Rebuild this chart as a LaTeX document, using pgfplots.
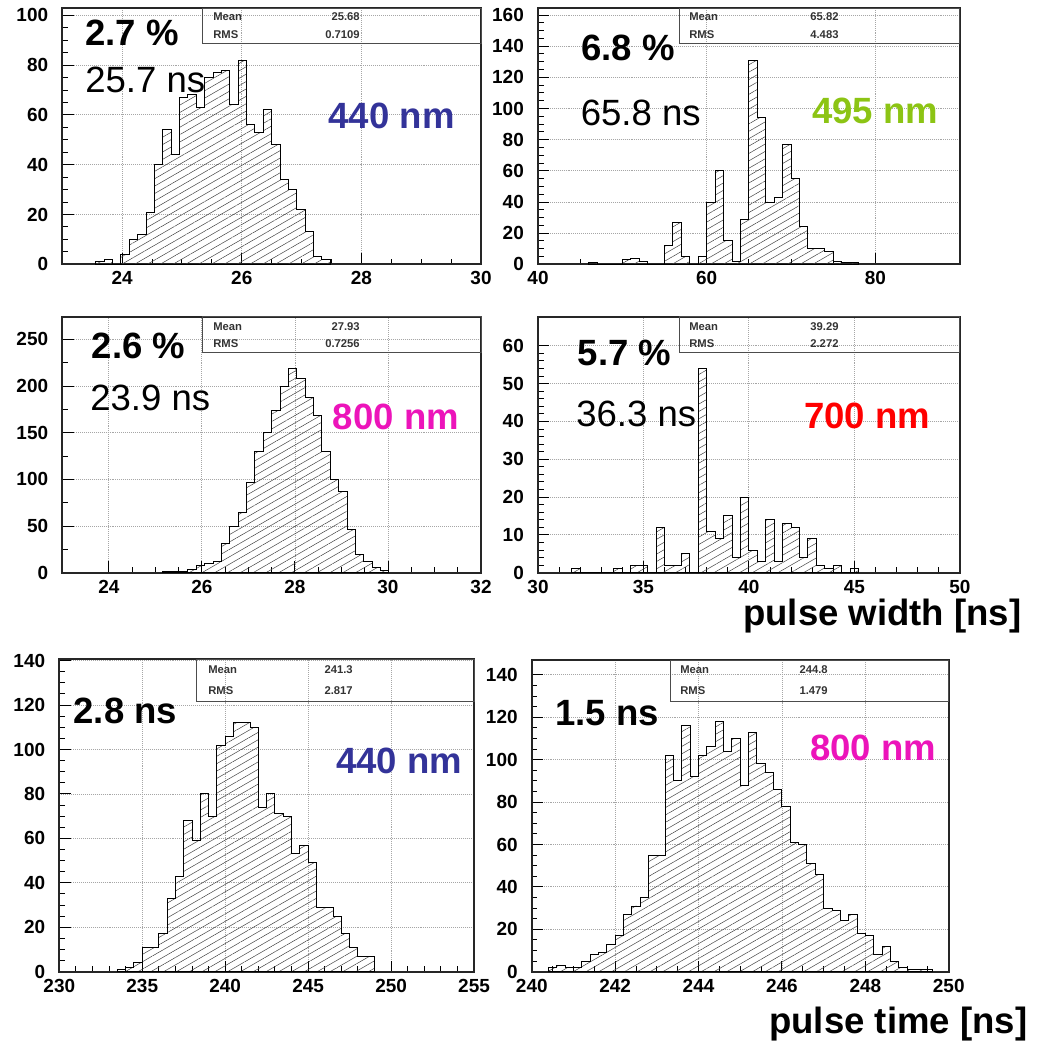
\documentclass[border=0pt]{standalone}
\usepackage{fontspec}
\setmainfont{Liberation Sans}
\usepackage{pgfplots}
\pgfplotsset{compat=1.18}
\usetikzlibrary{patterns.meta}
\definecolor{c440}{RGB}{51,51,153}
\definecolor{c495}{RGB}{140,196,20}
\definecolor{c800}{RGB}{236,20,186}
\definecolor{c700}{RGB}{255,0,0}
\newcommand\tickfont{\fontsize{13.5}{16}\selectfont\bfseries}
\newcommand\bigfont{\fontsize{26}{30}\selectfont}
\newcommand\statfont{\fontsize{8}{9}\selectfont\bfseries}

\pgfplotsset{
  rootax/.style={
    scale only axis, anchor=north west,
    enlargelimits=false, ymin=0,
    tick align=inside, tick pos=left,
    grid=major, major grid style={densely dotted, gray!70, line width=0.6pt},
    axis line style={line width=1.3pt, black!85},
    major tick length=2.8mm, minor tick length=1.4mm,
    every tick/.style={black, line width=0.7pt},
    /pgf/number format/assume math mode=true,
    ticklabel style={font=\tickfont},
    xticklabel style={yshift=-0.6mm},
    yticklabel style={xshift=-2.3mm},
    scaled ticks=false,
  },
  hist/.style={const plot, draw=black, line width=0.7pt,
    pattern={Lines[angle=30, distance=1.6mm, line width=0.35pt]},
    pattern color=black!75},
}

\begin{document}
\begin{tikzpicture}
\path (0,0) rectangle (259.25mm,-261mm);

% 440 nm pulse width
\begin{axis}[rootax, at={(15.58mm,-2.08mm)}, width=104.68mm, height=64mm,
  xmin=23, xmax=30, ymax=102.8, xtick={24,26,28,30}, ytick={0,20,...,100},
  minor x tick num=3, minor y tick num=3]
\addplot[hist] coordinates {
  (23.56,1) (23.70,2) (23.84,0) (23.98,4) (24.12,10) (24.26,12) (24.40,21)
  (24.54,40) (24.68,54) (24.82,44) (24.96,67) (25.10,68) (25.24,63) (25.38,75)
  (25.52,77) (25.66,78) (25.80,64) (25.94,82) (26.08,56) (26.22,53) (26.36,62)
  (26.50,48) (26.64,34) (26.78,30) (26.92,22) (27.06,13) (27.20,3) (27.34,2)
  (27.48,2)} \closedcycle;
\end{axis}

% 495 nm pulse width
\begin{axis}[rootax, at={(134.5mm,-2.08mm)}, width=105.45mm, height=64mm,
  xmin=40, xmax=90, ymax=164.3, xtick={40,60,80}, ytick={0,20,...,160},
  minor x tick num=3, minor y tick num=3]
\addplot[hist] coordinates {
  (46,1) (47,0) (50,3) (51,4) (52,2) (53,0) (55,12) (56,27) (57,5) (58,0)
  (59,5) (60,40) (61,60) (62,15) (63,2) (64,29) (65,131) (66,94) (67,40)
  (68,43) (69,77) (70,55) (71,24) (72,10) (73,10) (74,8) (75,2) (76,1)
  (77,1) (78,1)} \closedcycle;
\end{axis}

% 800 nm pulse width
\begin{axis}[rootax, at={(15.58mm,-79.17mm)}, width=104.68mm, height=64mm,
  xmin=23, xmax=32, ymax=274.3, xtick={24,26,...,32}, ytick={0,50,...,250},
  minor x tick num=3, minor y tick num=1]
\addplot[hist] coordinates {
  (25.16,1) (25.34,1) (25.52,1) (25.70,3) (25.88,8) (26.06,10) (26.24,12)
  (26.42,31) (26.60,49) (26.78,64) (26.96,97) (27.14,130) (27.32,150)
  (27.50,174) (27.68,200) (27.86,219) (28.04,208) (28.22,188) (28.40,168)
  (28.58,130) (28.76,100) (28.94,87) (29.12,46) (29.30,20) (29.48,12)
  (29.66,6) (29.84,2) (30.02,2)} \closedcycle;
\end{axis}

% 700 nm pulse width
\begin{axis}[rootax, at={(134.5mm,-79.17mm)}, width=105.45mm, height=64mm,
  xmin=30, xmax=50, ymax=67.7, xtick={30,35,...,50}, ytick={0,10,...,60},
  minor x tick num=4, minor y tick num=4]
\addplot[hist] coordinates {
  (31.6,1) (32.0,0) (33.6,1) (34.0,0) (34.4,2) (34.8,2) (35.2,0) (35.6,12)
  (36.0,2) (36.4,2) (36.8,5) (37.2,0) (37.6,54) (38.0,11) (38.4,9) (38.8,15)
  (39.2,4) (39.6,20) (40.0,6) (40.4,3) (40.8,14) (41.2,3) (41.6,13) (42.0,12)
  (42.4,4) (42.8,9) (43.2,2) (43.6,1) (44.0,2) (44.4,0) (44.8,1) (45.2,1)}
  \closedcycle;
\end{axis}

% 440 nm pulse time
\begin{axis}[rootax, at={(14.83mm,-164.83mm)}, width=103.68mm, height=78.1mm,
  xmin=230, xmax=255, ymax=140.6, xtick={230,235,...,255}, ytick={0,20,...,140},
  minor x tick num=4, minor y tick num=3]
\addplot[hist] coordinates {
  (233.5,1) (234.0,2) (234.5,4) (235.0,11) (235.5,11) (236.0,17) (236.5,33)
  (237.0,43) (237.5,68) (238.0,59) (238.5,80) (239.0,70) (239.5,102)
  (240.0,106) (240.5,112) (241.0,112) (241.5,110) (242.0,74) (242.5,80)
  (243.0,71) (243.5,70) (244.0,53) (244.5,57) (245.0,49) (245.5,29)
  (246.0,29) (246.5,25) (247.0,17) (247.5,11) (248.0,7) (248.5,7) (249.0,7)}
  \closedcycle;
\end{axis}

% 800 nm pulse time
\begin{axis}[rootax, at={(132.95mm,-165.0mm)}, width=104.23mm, height=77.93mm,
  xmin=240, xmax=250, ymax=147, xtick={240,242,...,250}, ytick={0,20,...,140},
  minor x tick num=3, minor y tick num=3]
\addplot[hist] coordinates {
  (240.4,2) (240.6,3) (240.8,2) (241.0,2) (241.2,5) (241.4,8) (241.6,9)
  (241.8,13) (242.0,17) (242.2,27) (242.4,31) (242.6,35) (242.8,55)
  (243.0,55) (243.2,102) (243.4,90) (243.6,116) (243.8,92) (244.0,102)
  (244.2,106) (244.4,118) (244.6,104) (244.8,110) (245.0,88) (245.2,113)
  (245.4,98) (245.6,94) (245.8,86) (246.0,78) (246.2,61) (246.4,60)
  (246.6,51) (246.8,46) (247.0,30) (247.2,29) (247.4,24) (247.6,27)
  (247.8,18) (248.0,17) (248.2,8) (248.4,12) (248.6,5) (248.8,2) (249.0,1)
  (249.2,1) (249.4,1) (249.6,1)} \closedcycle;
\end{axis}

\begin{scope}[x=0.25mm, y=-0.25mm]
  % statistics boxes
  \tikzset{sbox/.style={draw=black!70, line width=0.6pt},
           st/.style={font=\statfont, inner sep=0pt, text=black!80}}
  \draw[sbox] (202.3,8.3) rectangle (481,43.3);
  \node[st, anchor=west] at (213,16.7) {Mean};
  \node[st, anchor=west] at (213,34.3) {RMS};
  \node[st, anchor=east] at (360,16.7) {25.68};
  \node[st, anchor=east] at (360,34.3) {0.7109};

  \draw[sbox] (679.3,8.3) rectangle (959.8,43.3);
  \node[st, anchor=west] at (689,16.7) {Mean};
  \node[st, anchor=west] at (689,34.3) {RMS};
  \node[st, anchor=east] at (838.8,16.7) {65.82};
  \node[st, anchor=east] at (838.8,34.3) {4.483};

  \draw[sbox] (202.3,316.7) rectangle (481,352.3);
  \node[st, anchor=west] at (213,326.7) {Mean};
  \node[st, anchor=west] at (213,343.3) {RMS};
  \node[st, anchor=east] at (360,326.7) {27.93};
  \node[st, anchor=east] at (360,343.3) {0.7256};

  \draw[sbox] (679,316.7) rectangle (959.8,352.3);
  \node[st, anchor=west] at (689,326.7) {Mean};
  \node[st, anchor=west] at (689,343.3) {RMS};
  \node[st, anchor=east] at (838.8,326.7) {39.29};
  \node[st, anchor=east] at (838.8,343.3) {2.272};

  \draw[sbox] (196.7,659.3) rectangle (474,701);
  \node[st, anchor=west] at (208,670) {Mean};
  \node[st, anchor=west] at (208,690.7) {RMS};
  \node[st, anchor=east] at (353,670) {241.3};
  \node[st, anchor=east] at (353,690.7) {2.817};

  \draw[sbox] (670,660) rectangle (948.7,701);
  \node[st, anchor=west] at (680,670) {Mean};
  \node[st, anchor=west] at (680,691) {RMS};
  \node[st, anchor=east] at (828,670) {244.8};
  \node[st, anchor=east] at (828,691) {1.479};

  % annotations
  \tikzset{big/.style={font=\bigfont, inner sep=0pt, anchor=west}}
  \node[big] at (85,33.3) {\bfseries 2.7 \%};
  \node[big] at (85,80) {25.7 ns};
  \node[big, text=c440] at (328.3,115.8) {\bfseries 440 nm};

  \node[big] at (581,48.3) {\bfseries 6.8 \%};
  \node[big] at (580.5,113) {65.8 ns};
  \node[big, text=c495] at (812,111.2) {\bfseries 495 nm};

  \node[big] at (91.7,345.8) {\bfseries 2.6 \%};
  \node[big] at (90,398.3) {23.9 ns};
  \node[big, text=c800] at (332.7,417.2) {\bfseries 800 nm};

  \node[big] at (577.7,352.5) {\bfseries 5.7 \%};
  \node[big] at (576,414.2) {36.3 ns};
  \node[big, text=c700] at (804,415.8) {\bfseries 700 nm};

  \node[big] at (73.3,710.5) {\bfseries 2.8 ns};
  \node[big, text=c440] at (336,760.8) {\bfseries 440 nm};

  \node[big] at (555,713) {\bfseries 1.5 ns};
  \node[big, text=c800] at (810,747.5) {\bfseries 800 nm};

  \node[big, anchor=base west] at (743,626) {\bfseries pulse width [ns]};
  \node[big, anchor=base west] at (769,1034) {\bfseries pulse time [ns]};
\end{scope}
\end{tikzpicture}
\end{document}
